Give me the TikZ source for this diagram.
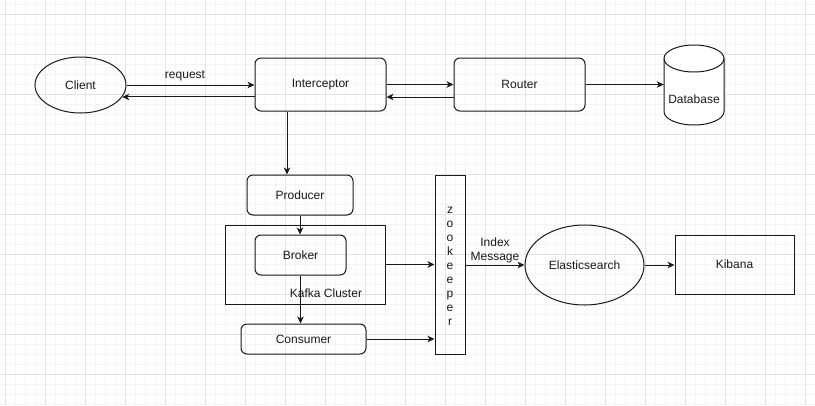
\documentclass[tikz,border=0pt]{standalone}
\usepackage{fontspec}
\setmainfont{Liberation Sans}
\usetikzlibrary{arrows.meta,shapes.geometric}
\definecolor{minorgrid}{HTML}{F4F4F4}
\definecolor{majorgrid}{HTML}{E4E4E4}
\definecolor{ink}{HTML}{1A1A1A}
\tikzset{
  base/.style={draw=ink, line width=1pt, inner sep=0pt, text=ink, font=\fontsize{12}{14}\selectfont},
  rbox/.style={base, rectangle, rounded corners=6pt},
  sbox/.style={base, rectangle},
  ell/.style={base, ellipse},
  arr/.style={draw=ink, line width=1pt, -{Stealth[length=7pt,width=6.5pt,inset=2pt]}},
  lbl/.style={text=ink, font=\fontsize{12}{14}\selectfont, inner sep=0pt, align=center},
}
\begin{document}
\begin{tikzpicture}[x=1pt,y=-1pt]
\useasboundingbox (0,0) rectangle (815,405);
\fill[white] (0,0) rectangle (815,405);
% grid
\foreach \x in {5,15,...,815} \draw[minorgrid, line width=0.8pt] (\x,0) -- (\x,405);
\foreach \y in {4.5,14.5,...,405} \draw[minorgrid, line width=0.8pt] (0,\y) -- (815,\y);
\foreach \x in {5,45,...,815} \draw[majorgrid, line width=1pt] (\x,0) -- (\x,405);
\foreach \y in {14.5,54.5,...,405} \draw[majorgrid, line width=1pt] (0,\y) -- (815,\y);

% nodes
\node[ell, minimum width=91pt, minimum height=56pt] (client) at (80.5,85) {Client};
\node[rbox, minimum width=131pt, minimum height=53pt] (inter) at (320.5,84.5) {Interceptor};
\node[rbox, minimum width=131pt, minimum height=53pt] (router) at (519.5,84.5) {Router};
\node[minimum width=60pt, minimum height=80pt, inner sep=0pt] (db) at (694,85) {};
\draw[draw=ink, line width=1pt, fill=white]
  (664,58.5) -- (664,111.5) arc[start angle=180, end angle=0, x radius=30, y radius=13.5]
  -- (724,58.5) arc[start angle=0, end angle=-180, x radius=30, y radius=13.5] -- cycle;
\draw[draw=ink, line width=1pt] (664,58.5) arc[start angle=180, end angle=0, x radius=30, y radius=13.5];
\node[lbl] (dbt) at (694,99) {Database};

\node[rbox, minimum width=106pt, minimum height=40pt] (prod) at (300,195) {Producer};
\node[sbox, minimum width=160pt, minimum height=79pt] (kafka) at (305,264.5) {};
\node[rbox, minimum width=91pt, minimum height=40pt] (broker) at (300.5,255) {Broker};
\node[lbl] (kafkat) at (326,293) {Kafka Cluster};
\node[rbox, minimum width=125pt, minimum height=30pt] (cons) at (303.5,339) {Consumer};
\node[sbox, minimum width=30pt, minimum height=179pt] (zoo) at (450,264.5) {};
\node[lbl] (zoot) at (450,266) {z\\o\\o\\k\\e\\e\\p\\e\\r};
\node[ell, minimum width=119pt, minimum height=80pt] (es) at (584.5,265) {Elasticsearch};
\node[sbox, minimum width=119pt, minimum height=59pt] (kib) at (734.5,264.5) {Kibana};

% connectors
\draw[arr] (client.east) -- (client.east -| inter.west);
\node[lbl] (req) at (185,76) {request};
\draw[arr] (client.-16.3 -| inter.west) -- (client.-16.3);
\draw[arr] (inter.east) -- (router.west);
\draw[arr] ([yshift=-12.5pt]router.west) -- ([yshift=-12.5pt]inter.east);
\draw[arr] (router.east) -- (router.east -| db.west);
\draw[arr] ([xshift=-33.5pt]inter.south) -- ([xshift=-33.5pt]inter.south |- prod.north);
\draw[arr] (prod.south) -- (prod.south |- broker.north);
\draw[arr] (broker.south) -- (broker.south |- cons.north);
\draw[arr] (kafka.east) -- (kafka.east -| zoo.west);
\draw[arr] (cons.east) -- (cons.east -| zoo.west);
\draw[arr] (es.west -| zoo.east) -- (es.west);
\node[lbl] (idx) at (495,250) {Index\\Message};
\draw[arr] (es.east) -- (es.east -| kib.west);
\end{tikzpicture}
\end{document}
